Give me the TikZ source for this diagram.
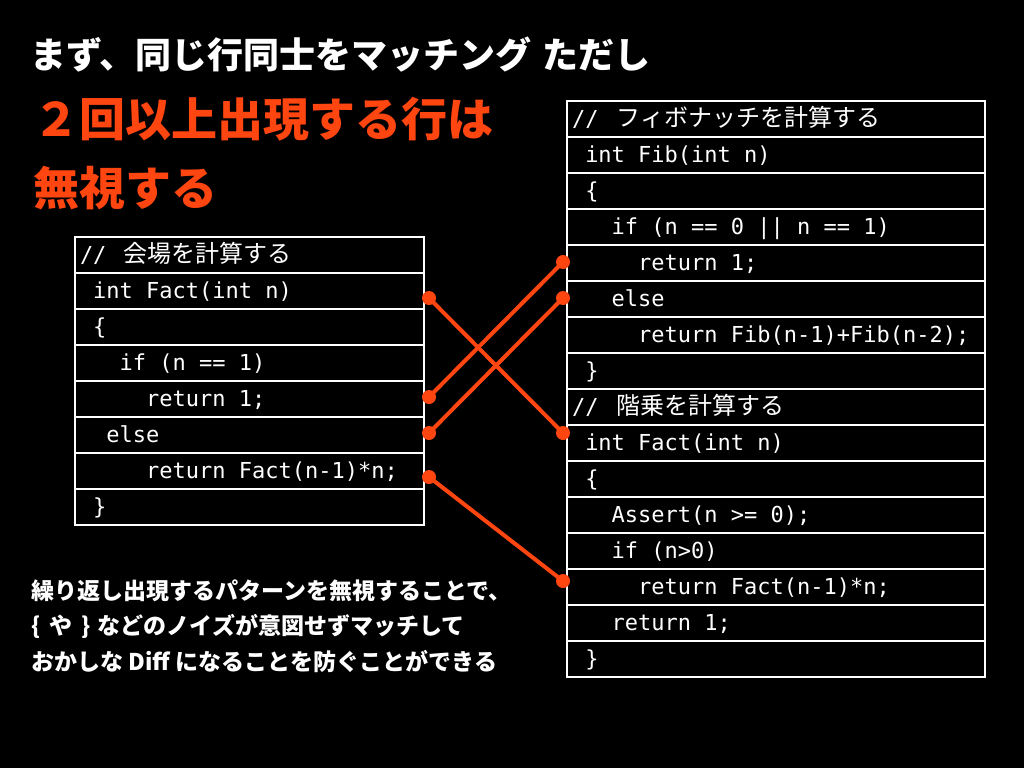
\documentclass[tikz,border=0pt]{standalone}
\usepackage{fontspec}
\setmonofont{DejaVu Sans Mono}
\newfontfamily\jpfont{Noto Sans CJK JP}
\newfontfamily\jpcode{Noto Sans CJK JP}[Scale=1.09]
\definecolor{hilite}{RGB}{255, 69, 16}
\usetikzlibrary{positioning}
% one monospaced blank
\newcommand\ws{\hspace*{0.602em}}

\begin{document}
\begin{tikzpicture}[x=1pt, y=-1pt,
  codeline/.style={draw=white, line width=1.2pt, fill=black, text=white, align=left, inner xsep=5pt, inner ysep=0pt, outer sep=0pt, minimum height=36pt, text height=20pt, text depth=5pt, font=\ttfamily\fontsize{22}{26}\selectfont},
  leftrow/.style={codeline, text width=339pt},
  rightrow/.style={codeline, text width=408pt},
  heading/.style={anchor=west, inner sep=0pt, text=white, font=\jpfont\bfseries\fontsize{36}{40}\selectfont},
  alert/.style={anchor=west, inner sep=0pt, text=hilite, font=\jpfont\bfseries\fontsize{46}{50}\selectfont},
  note/.style={anchor=west, align=left, inner sep=0pt, text=white, font=\jpfont\bfseries\fontsize{23}{35.5}\selectfont},
  matchdot/.style={circle, fill=hilite, inner sep=0pt, minimum size=14pt},
  matchline/.style={draw=hilite, line width=4pt}
]
  \fill[black] (0,0) rectangle (1024,768);

  % headline
  \node[heading] (head) at (30, 55) {まず、同じ行同士をマッチング\hspace{0.3em}ただし};
  \node[alert] (warn1) at (33, 119) {２回以上出現する行は};
  \node[alert] (warn2) at (33, 188) {無視する};

  % old version
  \node[leftrow] (L1) at (249.5, 255) {//\ws\kern4pt{\jpcode 会場を計算する}};
  \node[leftrow, below=0pt of L1] (L2) {\ws int\ws Fact(int\ws n)};
  \node[leftrow, below=0pt of L2] (L3) {\ws\{};
  \node[leftrow, below=0pt of L3] (L4) {\ws\ws\ws if\ws(n\ws==\ws1)};
  \node[leftrow, below=0pt of L4] (L5) {\ws\ws\ws\ws\ws return\ws1;};
  \node[leftrow, below=0pt of L5] (L6) {\ws\ws else};
  \node[leftrow, below=0pt of L6] (L7) {\ws\ws\ws\ws\ws return\ws Fact(n-1)*n;};
  \node[leftrow, below=0pt of L7] (L8) {\ws\}};

  % new version
  \node[rightrow] (R1) at (776, 119) {//\ws\kern5pt{\jpcode フィボナッチを計算する}};
  \node[rightrow, below=0pt of R1] (R2) {\ws int\ws Fib(int\ws n)};
  \node[rightrow, below=0pt of R2] (R3) {\ws\{};
  \node[rightrow, below=0pt of R3] (R4) {\ws\ws\ws if\ws(n\ws==\ws0\ws||\ws n\ws==\ws1)};
  \node[rightrow, below=0pt of R4] (R5) {\ws\ws\ws\ws\ws return\ws1;};
  \node[rightrow, below=0pt of R5] (R6) {\ws\ws\ws else};
  \node[rightrow, below=0pt of R6] (R7) {\ws\ws\ws\ws\ws return\ws Fib(n-1)+Fib(n-2);};
  \node[rightrow, below=0pt of R7] (R8) {\ws\}};
  \node[rightrow, below=0pt of R8] (R9) {//\ws\kern5pt{\jpcode 階乗を計算する}};
  \node[rightrow, below=0pt of R9] (R10) {\ws int\ws Fact(int\ws n)};
  \node[rightrow, below=0pt of R10] (R11) {\ws\{};
  \node[rightrow, below=0pt of R11] (R12) {\ws\ws\ws Assert(n\ws>=\ws0);};
  \node[rightrow, below=0pt of R12] (R13) {\ws\ws\ws if\ws(n>0)};
  \node[rightrow, below=0pt of R13] (R14) {\ws\ws\ws\ws\ws return\ws Fact(n-1)*n;};
  \node[rightrow, below=0pt of R14] (R15) {\ws\ws\ws return\ws1;};
  \node[rightrow, below=0pt of R15] (R16) {\ws\}};

  % matched lines
  \node[matchdot] (a1) at ([xshift=5pt, yshift=-7pt]L2.east) {};
  \node[matchdot] (a2) at ([xshift=5pt, yshift=2pt]L5.east) {};
  \node[matchdot] (a3) at ([xshift=5pt, yshift=2pt]L6.east) {};
  \node[matchdot] (a4) at ([xshift=5pt, yshift=-6pt]L7.east) {};
  \node[matchdot] (b1) at ([xshift=-4pt, yshift=1pt]R5.west) {};
  \node[matchdot] (b2) at ([xshift=-4pt, yshift=1pt]R6.west) {};
  \node[matchdot] (b3) at ([xshift=-4pt, yshift=10pt]R10.west) {};
  \node[matchdot] (b4) at ([xshift=-4pt, yshift=6pt]R14.west) {};
  \draw[matchline] (a1.center) -- (b3.center);
  \draw[matchline] (a2.center) -- (b1.center);
  \draw[matchline] (a3.center) -- (b2.center);
  \draw[matchline] (a4.center) -- (b4.center);

  \node[note] (remark) at (31, 626) {繰り返し出現するパターンを無視することで、\\
    \{\hspace{0.4em}や\hspace{0.4em}\}\hspace{0.3em}などのノイズが意図せずマッチして\\
    おかしな Diff になることを防ぐことができる};
\end{tikzpicture}
\end{document}
